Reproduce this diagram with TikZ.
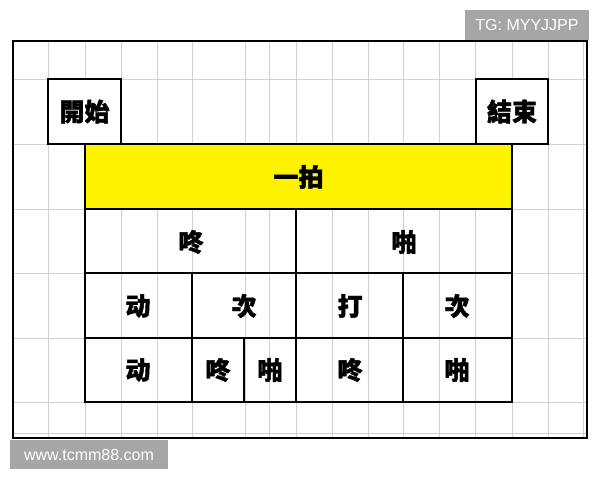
\documentclass[tikz,border=0pt]{standalone}
\usepackage{fontspec}
\newfontfamily\cjk{Noto Sans CJK TC}[BoldFeatures={FakeBold=1.6}]
\newfontfamily\wmfont{Liberation Sans}
\begin{document}
\begin{tikzpicture}[x=1pt, y=-1pt,
  gridline/.style={black!18, line width=0.9pt},
  tabline/.style={black, line width=1.6pt},
  beat/.style={font=\cjk\bfseries\fontsize{25}{25}\selectfont, inner sep=0pt},
  watermark/.style={fill=black!35, text=white, font=\wmfont\fontsize{16}{16}\selectfont, inner sep=0pt}]

\useasboundingbox (0,0) rectangle (600,480);

% Sheet grid
\foreach \gx in {48,85,121,157,192,245,269,296,332,368,403,439,475,512,548,583}
  \draw[gridline] (\gx,41) -- (\gx,438);
\foreach \gy in {79,144,209,273,338,402,433}
  \draw[gridline] (13,\gy) -- (587,\gy);
\draw[line width=1.2pt] (13,41) rectangle (587,438);

% Start / end boxes
\draw[tabline, fill=white] (48,79) rectangle (121,144);
\node[beat] (start) at (84.5,111.5) {開始};
\draw[tabline, fill=white] (476,79) rectangle (548,144);
\node[beat] (end) at (512,111.5) {結束};

% Row 1: one beat
\draw[tabline, fill=yellow] (85,144) rectangle (512,209);
\node[beat] (beat) at (298.5,177) {一拍};

% Row 2: halves
\draw[tabline] (85,209) rectangle (296,273);
\draw[tabline] (296,209) rectangle (512,273);
\node[beat] (dongA) at (191,242) {咚};
\node[beat] (paA) at (404,242) {啪};

% Row 3: quarters
\draw[tabline] (85,273) rectangle (192,338);
\draw[tabline] (192,273) rectangle (296,338);
\draw[tabline] (296,273) rectangle (403,338);
\draw[tabline] (403,273) rectangle (512,338);
\node[beat] (dongB) at (138,306) {动};
\node[beat] (ciB) at (244,306) {次};
\node[beat] (daB) at (350,306) {打};
\node[beat] (ciC) at (457,306) {次};

% Row 4: mixed
\draw[tabline] (85,338) rectangle (192,402);
\draw[tabline] (192,338) rectangle (244,402);
\draw[tabline] (244,338) rectangle (296,402);
\draw[tabline] (296,338) rectangle (403,402);
\draw[tabline] (403,338) rectangle (512,402);
\node[beat] (dongC) at (138,370) {动};
\node[beat] (dongD) at (218,370) {咚};
\node[beat] (paD) at (270,370) {啪};
\node[beat] (dongE) at (350,370) {咚};
\node[beat] (paE) at (457,370) {啪};

% Watermarks
\node[watermark, minimum width=124pt, minimum height=30pt] (tg) at (527,25) {TG: MYYJJPP};
\node[watermark, minimum width=158pt, minimum height=29pt] (site) at (89,454.5) {www.tcmm88.com};

\end{tikzpicture}
\end{document}
